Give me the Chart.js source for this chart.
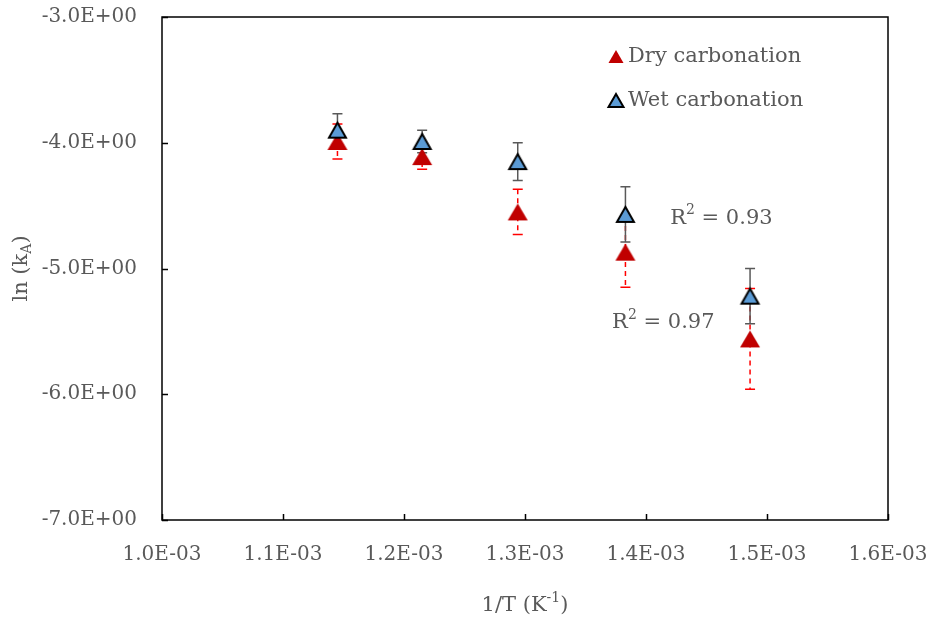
<!DOCTYPE html>
<html>
<head>
<meta charset="utf-8">
<script src="https://cdn.jsdelivr.net/npm/chart.js@4.4.0/dist/chart.umd.min.js"></script>
<style>
  html, body { margin: 0; padding: 0; background: #fff; }
  #wrap { width: 930px; height: 623px; }
</style>
</head>
<body>
<div id="wrap"><canvas id="arrhenius"></canvas></div>
<script>
// 1/T values (K^-1)
const invT = [0.001145, 0.001215, 0.001294, 0.001383, 0.001486];

// ln(kA) per series and error bar half-lengths
const dryLnK = [-3.99, -4.11, -4.55, -4.87, -5.56];
const dryErr = [0.14, 0.10, 0.18, 0.28, 0.40];
const wetLnK = [-3.90, -3.99, -4.15, -4.57, -5.22];
const wetErr = [0.13, 0.09, 0.15, 0.22, 0.22];

// axis ticks
const xTicks = [0.0010, 0.0011, 0.0012, 0.0013, 0.0014, 0.0015, 0.0016];
const yTicks = [-3, -4, -5, -6, -7];

// fit labels
const r2Values = ["0.93", "0.97"];
const r2Anchor = [[0.001420, -4.60], [0.001372, -5.43]];

const FONT = '"DejaVu Serif", serif';
const GREY = "#595959";

function sci(v) {
  const parts = v.toExponential(1).split("e");
  const n = parseInt(parts[1], 10);
  return parts[0].toUpperCase() + "E" + (n < 0 ? "-" : "+") + String(Math.abs(n)).padStart(2, "0");
}

// triangle marker centred on its bounding box (like Excel)
function triangleMarker(w, fill, stroke, lw) {
  const h = Math.round(w * 0.87);
  const c = document.createElement("canvas");
  c.width = w + 4;
  c.height = h + 4;
  const g = c.getContext("2d");
  g.beginPath();
  g.moveTo(c.width / 2, 2 + lw / 2);
  g.lineTo(c.width - 2 - lw / 2, c.height - 2 - lw / 2);
  g.lineTo(2 + lw / 2, c.height - 2 - lw / 2);
  g.closePath();
  g.fillStyle = fill;
  g.fill();
  if (lw) {
    g.lineJoin = "miter";
    g.lineWidth = lw;
    g.strokeStyle = stroke;
    g.stroke();
  }
  return c;
}

// draws text runs with sub/superscripts, centred on (cx, cy)
function drawRuns(ctx, runs, cx, cy, size, align) {
  const small = Math.round(size * 0.65);
  let total = 0;
  runs.forEach(r => {
    ctx.font = (r.sup || r.sub ? small : size) + "px " + FONT;
    r.w = ctx.measureText(r.t).width;
    total += r.w;
  });
  let x = align === "left" ? cx : cx - total / 2;
  ctx.textBaseline = "middle";
  ctx.textAlign = "left";
  runs.forEach(r => {
    ctx.font = (r.sup || r.sub ? small : size) + "px " + FONT;
    let y = cy;
    if (r.sup) y -= size * 0.35;
    if (r.sub) y += size * 0.25;
    ctx.fillText(r.t, x, y);
    x += r.w;
  });
}

const errorBars = {
  id: "errorBars",
  beforeDatasetsDraw(chart) {
    const { ctx, scales: { x, y } } = chart;
    chart.data.datasets.forEach(ds => {
      ctx.save();
      ctx.strokeStyle = ds.errColor;
      ctx.lineWidth = 1.5;
      ds.data.forEach((p, i) => {
        const px = x.getPixelForValue(p.x);
        const top = y.getPixelForValue(p.y + ds.err[i]);
        const bot = y.getPixelForValue(p.y - ds.err[i]);
        ctx.setLineDash(ds.errDash);
        ctx.beginPath();
        ctx.moveTo(px, top);
        ctx.lineTo(px, bot);
        ctx.stroke();
        ctx.setLineDash([]);
        ctx.beginPath();
        ctx.moveTo(px - 5, top); ctx.lineTo(px + 5, top);
        ctx.moveTo(px - 5, bot); ctx.lineTo(px + 5, bot);
        ctx.stroke();
      });
      ctx.restore();
    });
  }
};

const decorations = {
  id: "decorations",
  afterDraw(chart) {
    const { ctx, chartArea: a, scales: { x, y } } = chart;
    ctx.save();
    // frame + inside ticks
    ctx.strokeStyle = "#000";
    ctx.lineWidth = 1.5;
    ctx.strokeRect(a.left, a.top, a.right - a.left, a.bottom - a.top);
    ctx.beginPath();
    xTicks.forEach(v => {
      const px = Math.round(x.getPixelForValue(v)) + 0.5;
      ctx.moveTo(px, a.bottom); ctx.lineTo(px, a.bottom - 6);
    });
    yTicks.forEach(v => {
      const py = Math.round(y.getPixelForValue(v)) + 0.5;
      ctx.moveTo(a.left, py); ctx.lineTo(a.left + 6, py);
    });
    ctx.stroke();

    ctx.fillStyle = GREY;
    // axis titles
    drawRuns(ctx, [{ t: "1/T (K" }, { t: "-1", sup: true }, { t: ")" }], (a.left + a.right) / 2, 606, 21);
    ctx.save();
    ctx.translate(22, (a.top + a.bottom) / 2);
    ctx.rotate(-Math.PI / 2);
    drawRuns(ctx, [{ t: "ln (k" }, { t: "A", sub: true }, { t: ")" }], 0, 0, 21);
    ctx.restore();

    // R² labels
    r2Values.forEach((v, i) => {
      const px = x.getPixelForValue(r2Anchor[i][0]);
      const py = y.getPixelForValue(r2Anchor[i][1]);
      drawRuns(ctx, [{ t: "R" }, { t: "2", sup: true }, { t: " = " + v }], px, py, 21, "left");
    });

    // legend
    const items = chart.data.datasets.slice().sort((p, q) => p.order - q.order).reverse();
    items.forEach((ds, i) => {
      const ly = 57 + i * 44;
      ctx.fillStyle = ds.fill;
      ctx.strokeStyle = ds.edge;
      ctx.lineWidth = ds.edgeWidth;
      ctx.beginPath();
      ctx.moveTo(616, ly - 7);
      ctx.lineTo(623.5, ly + 6);
      ctx.lineTo(608.5, ly + 6);
      ctx.closePath();
      ctx.fill();
      if (ds.edgeWidth) ctx.stroke();
      ctx.fillStyle = GREY;
      ctx.font = "21px " + FONT;
      ctx.textAlign = "left";
      ctx.textBaseline = "middle";
      ctx.fillText(ds.label, 628, ly);
    });
    ctx.restore();
  }
};

const dryPoints = invT.map((v, i) => ({ x: v, y: dryLnK[i] }));
const wetPoints = invT.map((v, i) => ({ x: v, y: wetLnK[i] }));

new Chart(document.getElementById("arrhenius"), {
  type: "scatter",
  data: {
    datasets: [
      {
        label: "Dry carbonation",
        data: dryPoints,
        err: dryErr,
        errColor: "#ff0000",
        errDash: [5, 4],
        fill: "#c00000",
        edge: "#c00000",
        edgeWidth: 0,
        pointStyle: triangleMarker(20, "#c00000", "#c00000", 0),
        pointRadius: 10,
        order: 1
      },
      {
        label: "Wet carbonation",
        data: wetPoints,
        err: wetErr,
        errColor: GREY,
        errDash: [],
        fill: "#5b9bd5",
        edge: "#000000",
        edgeWidth: 2,
        pointStyle: triangleMarker(19, "#5b9bd5", "#000000", 2),
        pointRadius: 10,
        order: 0
      }
    ]
  },
  options: {
    responsive: true,
    maintainAspectRatio: false,
    animation: false,
    layout: { padding: { top: 17, right: 42, left: 0, bottom: 0 } },
    plugins: {
      legend: { display: false },
      tooltip: { enabled: false }
    },
    scales: {
      x: {
        type: "linear",
        min: 0.0010,
        max: 0.0016,
        grid: { display: false },
        border: { display: false },
        afterBuildTicks: s => { s.ticks = xTicks.map(v => ({ value: v })); },
        afterFit: s => { s.height = 103; s.paddingLeft = 0; s.paddingRight = 0; },
        ticks: {
          padding: 15,
          maxRotation: 0,
          color: GREY,
          font: { family: FONT, size: 20 },
          callback: v => sci(v)
        }
      },
      y: {
        type: "linear",
        min: -7,
        max: -3,
        grid: { display: false },
        border: { display: false },
        afterBuildTicks: s => { s.ticks = yTicks.map(v => ({ value: v })); },
        afterFit: s => { s.width = 162; s.paddingTop = 0; s.paddingBottom = 0; },
        ticks: {
          padding: 17,
          color: GREY,
          font: { family: FONT, size: 20 },
          callback: v => sci(v)
        }
      }
    }
  },
  plugins: [errorBars, decorations]
});
</script>
</body>
</html>
